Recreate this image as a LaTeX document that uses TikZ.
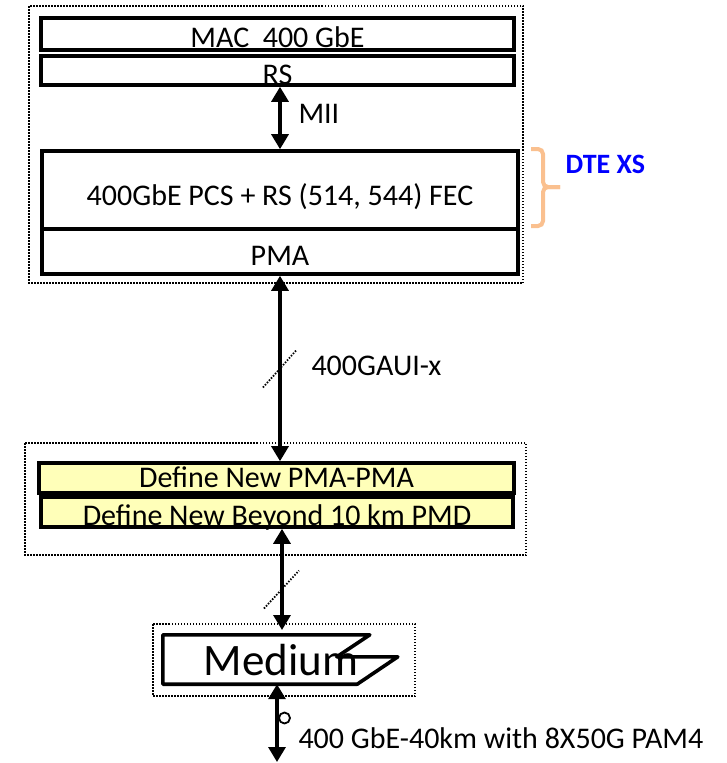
\documentclass[tikz,border=0pt]{standalone}
\usepackage{fontspec}
\setmainfont{Carlito}
\usetikzlibrary{arrows.meta}

\definecolor{bracecol}{RGB}{250,192,143}
\definecolor{layerfill}{RGB}{255,255,185}

\begin{document}
\begin{tikzpicture}[
					x=1pt,y=-1pt,
					font=\fontsize{30}{36}\selectfont,
					layer/.style={rectangle,draw,line width=3.6pt,inner sep=0pt,text height=27pt,text depth=0pt},
					group/.style={draw,line width=1.8pt,dash pattern=on 1.5pt off 1.5pt},
					link/.style={line width=3.2pt,{Triangle[width=17pt,length=15pt]}-{Triangle[width=17pt,length=15pt]}},
					lanes/.style={line width=1.8pt,dash pattern=on 1.5pt off 1.5pt},
					]
					\useasboundingbox (0,0) rectangle (726,763);
					% DTE side
					\draw[group] (29,6) rectangle (523,283);
					\node [layer,minimum width=473pt,minimum height=32pt] (mac) at (277.5,34) {MAC~~400 GbE};
					\node [layer,minimum width=473pt,minimum height=29pt] (rs) at (277.5,70.5) {RS};
					\node [layer,minimum width=476pt,minimum height=78pt,text height=31pt] (pcs) at (280,190) {400GbE PCS + RS (514, 544) FEC};
					\node [layer,minimum width=476pt,minimum height=45pt,text height=28pt] (pma) at (280,251.5) {PMA};
					\draw[link] (rs.south -| pcs.north) -- (pcs.north);
					\node [anchor=base west] (mii) at (295,123) {MII};
					\draw[bracecol,line width=4pt,rounded corners=5pt] (531,149) -| (543,187) -- (560,187);
					\draw[bracecol,line width=4pt,rounded corners=5pt] (560,187) -| (543,226) -- (531,226);
					\node [anchor=base west,text=blue,font=\bfseries\fontsize{28}{34}\selectfont] (dtexs) at (562,173) {DTE XS};
					% new PMA / PMD
					\draw[group] (25,443) rectangle (526,555);
					\node [layer,fill=layerfill,minimum width=475pt,minimum height=30pt,text height=19pt] (pmapma) at (276.5,478) {Define New PMA-PMA};
					\node [layer,fill=layerfill,minimum width=472pt,minimum height=30pt] (pmd) at (277,512) {Define New Beyond 10 km PMD};
					\draw[link] (pma.south) -- coordinate (gaui) (pma.south |- pmapma.north);
					\draw[lanes] (gaui) +(-17,19) -- +(17,-19);
					\node [anchor=base west] (gauilabel) at (308,375) {400GAUI-x};
					% medium
					\draw[group] (153,624) rectangle (415,696);
					\node [minimum width=194pt,minimum height=49pt,inner sep=0pt] (medium) at (260,659.5) {};
					\draw[line width=3.6pt,line join=round] (medium.north west) -- ++(207,0) -- ++(-33,22) -- ++(61,0) -- (medium.south east) -- (medium.south west) -- cycle;
					\node [anchor=base,font=\fontsize{45}{54}\selectfont] (medtext) at (281,675) {Medium};
					\coordinate (medin) at (282,630);
					\coordinate (fiber) at (277,762);
					\draw[link] (pmd.south -| medin) -- coordinate[pos=0.6] (pmdlane) (medin);
					\draw[lanes] (pmdlane) +(-18,19) -- +(17,-19);
					\draw[link] (medium.south -| fiber) -- (fiber);
					\node [circle,draw,line width=1.8pt,minimum size=11pt,inner sep=0pt] (tap) at (284.5,718) {};
					\node [anchor=base west] (phy) at (295,748) {400 GbE-40km with 8X50G PAM4};
				\end{tikzpicture}
\end{document}
